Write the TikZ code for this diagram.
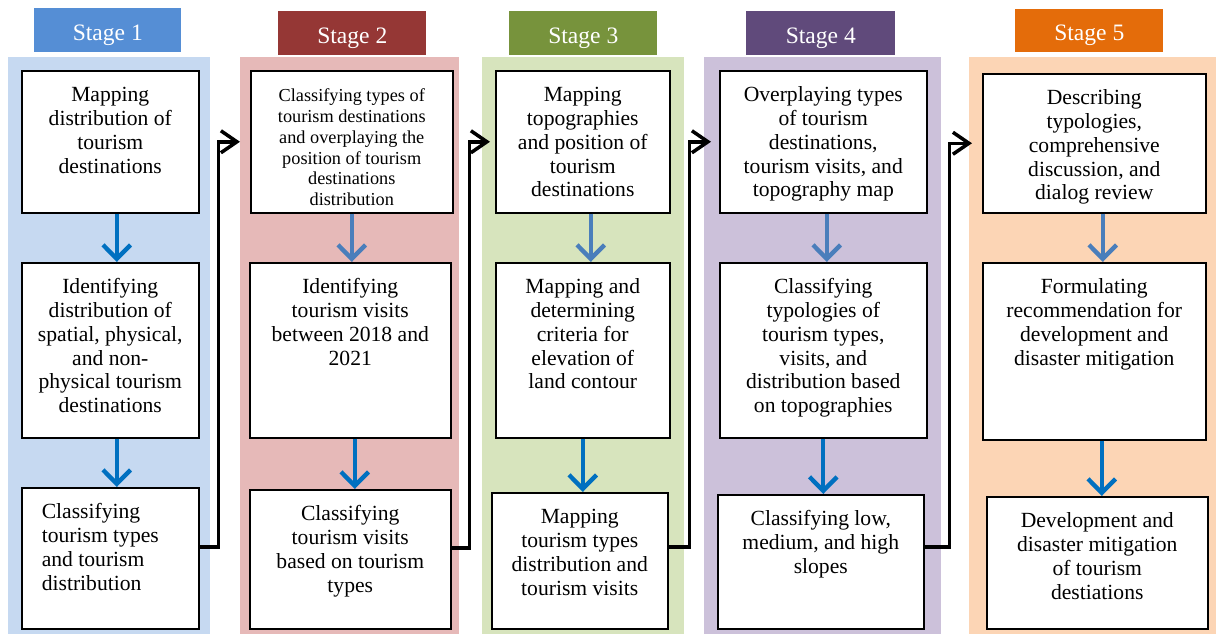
\documentclass[tikz,border=0pt]{standalone}
\usepackage{fontspec}
\setmainfont{Liberation Serif}
\usetikzlibrary{arrows.meta}
\definecolor{headA}{HTML}{558ED5}
\definecolor{headB}{HTML}{953735}
\definecolor{headC}{HTML}{77933C}
\definecolor{headD}{HTML}{604A7B}
\definecolor{headE}{HTML}{E46C0A}
\definecolor{backA}{HTML}{C6D9F1}
\definecolor{backB}{HTML}{E6B9B8}
\definecolor{backC}{HTML}{D7E4BD}
\definecolor{backD}{HTML}{CCC1DA}
\definecolor{backE}{HTML}{FCD5B5}
\definecolor{darkblue}{HTML}{0070C0}
\definecolor{softblue}{HTML}{4A7EBB}
\tikzset{
	panel/.style={
		rectangle,
		inner sep=0,
		anchor=north west,
		minimum height=11.54cm
	},
	stagehead/.style={
		rectangle,
		inner sep=0,
		anchor=north west,
		minimum height=.88cm,
		text height=.4cm,
		text depth=0pt,
		text=white,
		font=\fontsize{13.4}{15}\selectfont
	},
	stepbox/.style={
		rectangle,
		draw,
		fill=white,
		line width=.9pt,
		inner sep=0,
		anchor=north west,
		font=\fontsize{12.3}{13.6}\selectfont
	},
	down/.style={line width=2.5pt, -{Straight Barb[length=.28cm,width=.55cm]}},
	flow/.style={line width=2pt, -{Straight Barb[length=.32cm,width=.44cm]}}
}
% box text: [alignment]{width}{height}{lines}
\newcommand{\boxtxt}[4][\centering]{\parbox[c][#3][t]{#2}{#1\rule{0pt}{17.4pt}#4}}
\begin{document}
\begin{tikzpicture}[x=.02cm, y=-.02cm]
	\useasboundingbox (0,0) rectangle (1218,634);
	% panels and headers
	\node[panel, fill=backA, minimum width=4.04cm] (p1) at (8,57) {};
	\node[panel, fill=backB, minimum width=4.38cm] (p2) at (240,57) {};
	\node[panel, fill=backC, minimum width=4.04cm] (p3) at (482,57) {};
	\node[panel, fill=backD, minimum width=4.74cm] (p4) at (704,57) {};
	\node[panel, fill=backE, minimum width=4.94cm] (p5) at (969,57) {};
	\node[stagehead, fill=headA, minimum width=2.94cm] (h1) at (34,8) {Stage 1};
	\node[stagehead, fill=headB, minimum width=2.96cm] (h2) at (278,11) {Stage 2};
	\node[stagehead, fill=headC, minimum width=2.96cm] (h3) at (509,11) {Stage 3};
	\node[stagehead, fill=headD, minimum width=2.98cm] (h4) at (746,11) {Stage 4};
	\node[stagehead, fill=headE, minimum width=2.96cm, minimum height=.86cm] (h5) at (1015,9) {Stage 5};
	
	% stage 1
	\node[stepbox] (s1a) at (21,70) {\boxtxt{3.54cm}{2.84cm}{Mapping\\distribution of\\tourism\\destinations}};
	\node[stepbox] (s1b) at (21,262) {\boxtxt{3.54cm}{3.5cm}{Identifying\\distribution of\\spatial, physical,\\and non-\\physical tourism\\destinations}};
	\node[stepbox] (s1c) at (21,487) {\boxtxt[\raggedright\leftskip=.4cm]{3.54cm}{2.82cm}{Classifying\\tourism types\\and tourism\\distribution}};
	% stage 2
	\node[stepbox] (s2a) at (250,70) {\boxtxt[\centering\fontsize{10.4}{11.9}\selectfont]{4.04cm}{2.84cm}{Classifying types of\\tourism destinations\\and overplaying the\\position of tourism\\destinations\\distribution}};
	\node[stepbox] (s2b) at (249,262) {\boxtxt{4.02cm}{3.5cm}{Identifying\\tourism visits\\between 2018 and\\2021}};
	\node[stepbox] (s2c) at (249,489) {\boxtxt{4.02cm}{2.78cm}{Classifying\\tourism visits\\based on tourism\\types}};
	% stage 3
	\node[stepbox] (s3a) at (495,70) {\boxtxt{3.48cm}{2.84cm}{Mapping\\topographies\\and position of\\tourism\\destinations}};
	\node[stepbox] (s3b) at (495,262) {\boxtxt{3.48cm}{3.5cm}{Mapping and\\determining\\criteria for\\elevation of\\land contour}};
	\node[stepbox] (s3c) at (491,492) {\boxtxt{3.52cm}{2.72cm}{Mapping\\tourism types\\distribution and\\tourism visits}};
	% stage 4
	\node[stepbox] (s4a) at (719,70) {\boxtxt{4.14cm}{2.84cm}{Overplaying types\\of tourism\\destinations,\\tourism visits, and\\topography map}};
	\node[stepbox] (s4b) at (719,262) {\boxtxt{4.14cm}{3.5cm}{Classifying\\typologies of\\tourism types,\\visits, and\\distribution based\\on topographies}};
	\node[stepbox] (s4c) at (717,494) {\boxtxt{4.12cm}{2.68cm}{Classifying low,\\medium, and high\\slopes}};
	% stage 5
	\node[stepbox] (s5a) at (982,73) {\boxtxt{4.46cm}{2.78cm}{Describing\\typologies,\\comprehensive\\discussion, and\\dialog review}};
	\node[stepbox] (s5b) at (982,262) {\boxtxt{4.46cm}{3.54cm}{Formulating\\recommendation for\\development and\\disaster mitigation}};
	\node[stepbox] (s5c) at (986,496) {\boxtxt{4.42cm}{2.64cm}{Development and\\disaster mitigation\\of tourism\\destiations}};
	
	% arrows inside the stages
	\draw[down, darkblue] ([xshift=.13cm]s1a.south) -- ([xshift=.13cm]s1a.south |- s1b.north);
	\draw[down, darkblue] ([xshift=.13cm]s1b.south) -- ([xshift=.13cm]s1b.south |- s1c.north);
	\draw[down, softblue] (s2a.south) -- (s2a.south |- s2b.north);
	\draw[down, darkblue] ([xshift=.09cm]s2b.south) -- ([xshift=.09cm]s2b.south |- s2c.north);
	\draw[down, softblue] ([xshift=.16cm]s3a.south) -- ([xshift=.16cm]s3a.south |- s3b.north);
	\draw[down, darkblue] (s3b.south) -- (s3b.south |- s3c.north);
	\draw[down, softblue] ([xshift=.07cm]s4a.south) -- ([xshift=.07cm]s4a.south |- s4b.north);
	\draw[down, darkblue] (s4b.south) -- (s4b.south |- s4c.north);
	\draw[down, softblue] ([xshift=.17cm]s5a.south) -- ([xshift=.17cm]s5a.south |- s5b.north);
	\draw[down, darkblue] ([xshift=.15cm]s5b.south) -- ([xshift=.15cm]s5b.south |- s5c.north);
	
	% arrows between the stages
	\draw[flow, shorten >=.2cm] ([yshift=.23cm]s1c.east) -- ++(19,0) |- (s2a.west);
	\draw[flow, shorten >=.1cm] ([yshift=.23cm]s2c.east) -- ++(18,0) |- (s3a.west);
	\draw[flow, shorten >=.16cm] ([yshift=.28cm]s3c.east) -- ++(21,0) |- (s4a.west);
	\draw[flow, shorten >=.2cm] ([yshift=.3cm]s4c.east) -- ++(25,0) |- (s5a.west);
\end{tikzpicture}
\end{document}
